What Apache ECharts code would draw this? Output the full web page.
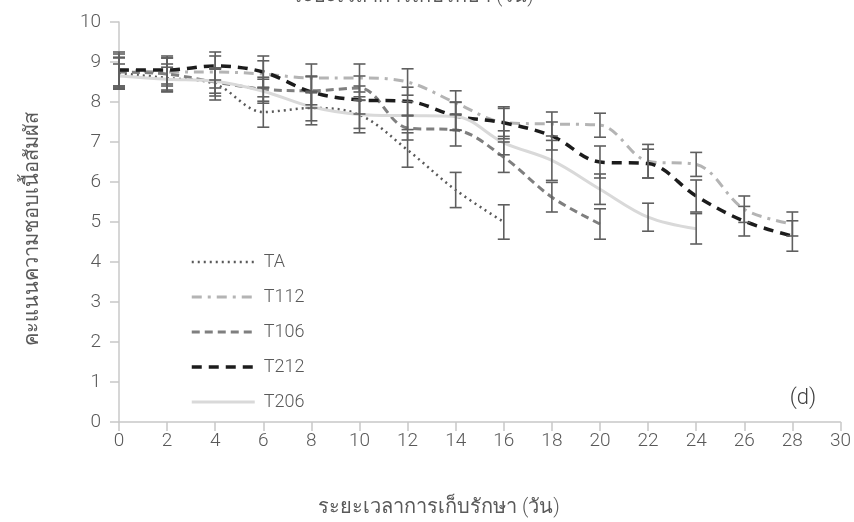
<!DOCTYPE html>
<html>
<head>
<meta charset="utf-8">
<script src="https://cdn.jsdelivr.net/npm/echarts@6/dist/echarts.min.js"></script>
<style>
  html, body { margin: 0; padding: 0; background: #fff; }
  #chart { width: 854px; height: 522px; }
</style>
</head>
<body>
<div id="chart"></div>
<script>
// storage days (x) and mean texture scores with error (sd)
const days = [0, 2, 4, 6, 8, 10, 12, 14, 16, 18, 20, 22, 24, 26, 28];
const xTicks = [0, 2, 4, 6, 8, 10, 12, 14, 16, 18, 20, 22, 24, 26, 28, 30];

const taMean = [8.72, 8.6, 8.45, 7.75, 7.85, 7.68, 6.8, 5.8, 5.0];
const taErr = [0.4, 0.35, 0.4, 0.38, 0.42, 0.45, 0.43, 0.44, 0.43];

const t112Mean = [8.8, 8.75, 8.75, 8.7, 8.6, 8.6, 8.5, 7.98, 7.49, 7.45, 7.42, 6.52, 6.44, 5.32, 4.95];
const t112Err = [0.4, 0.35, 0.4, 0.33, 0.35, 0.35, 0.33, 0.3, 0.35, 0.3, 0.3, 0.42, 0.3, 0.33, 0.3];

const t106Mean = [8.75, 8.7, 8.5, 8.32, 8.28, 8.35, 7.35, 7.3, 6.62, 5.62, 4.95];
const t106Err = [0.35, 0.4, 0.35, 0.3, 0.35, 0.3, 0.3, 0.4, 0.38, 0.37, 0.38];

const t212Mean = [8.8, 8.8, 8.9, 8.75, 8.25, 8.05, 8.02, 7.65, 7.48, 7.15, 6.5, 6.46, 5.65, 5.02, 4.65];
const t212Err = [0.45, 0.35, 0.35, 0.4, 0.4, 0.35, 0.35, 0.35, 0.4, 0.35, 0.4, 0.36, 0.4, 0.37, 0.38];

const t206Mean = [8.65, 8.57, 8.52, 8.27, 7.88, 7.69, 7.66, 7.64, 6.98, 6.54, 5.82, 5.12, 4.83];
const t206Err = [0.3, 0.3, 0.3, 0.3, 0.35, 0.35, 0.35, 0.35, 0.3, 0.5, 0.38, 0.35, 0.38];

const xName = 'ระยะเวลาการเก็บรักษา (วัน)';
const yName = 'คะแนนความชอบเนื้อสัมผัส';

const FONT = "Roboto, 'Liberation Sans', sans-serif";
const TXT = '#595959';

// line look per series: colour, width, dash
const styles = {
  TA: ['#595959', 2.5, [2, 4]],
  T112: ['#b4b4b4', 3, [10, 6, 3, 6]],
  T106: ['#7f7f7f', 3, [8, 5]],
  T212: ['#1c1c1c', 3.5, [10, 7]],
  T206: ['#d9d9d9', 3, 'solid']
};

function pairs(means) {
  return means.map((v, i) => [days[i], v]);
}
function errRows(means, errs) {
  return means.map((v, i) => [days[i], v, errs[i]]);
}

function lineSeries(name, means) {
  const s = styles[name];
  return {
    name: name,
    type: 'line',
    data: pairs(means),
    smooth: 0.35,
    symbol: 'none',
    lineStyle: { color: s[0], width: s[1], type: s[2], cap: 'butt' },
    itemStyle: { color: s[0] },
    z: 2
  };
}

function errSeries(means, errs) {
  return {
    type: 'custom',
    data: errRows(means, errs),
    z: 5,
    silent: true,
    renderItem: function (params, api) {
      const x = api.value(0), y = api.value(1), e = api.value(2);
      const top = api.coord([x, y + e]);
      const bot = api.coord([x, y - e]);
      const w = 6;
      const st = { stroke: '#5f5f5f', lineWidth: 1.6 };
      return {
        type: 'group',
        children: [
          { type: 'line', shape: { x1: top[0], y1: top[1], x2: bot[0], y2: bot[1] }, style: st },
          { type: 'line', shape: { x1: top[0] - w, y1: top[1], x2: top[0] + w, y2: top[1] }, style: st },
          { type: 'line', shape: { x1: bot[0] - w, y1: bot[1], x2: bot[0] + w, y2: bot[1] }, style: st }
        ]
      };
    }
  };
}

const legendNames = ['TA', 'T112', 'T106', 'T212', 'T206'];

const chart = echarts.init(document.getElementById('chart'), null, { renderer: 'canvas' });

chart.setOption({
  animation: false,
  backgroundColor: '#fff',
  textStyle: { fontFamily: FONT },
  grid: { left: 119, right: 12, top: 22, bottom: 100, containLabel: false },
  legend: {
    orient: 'vertical',
    left: 185,
    top: 248,
    itemWidth: 63,
    itemHeight: 14,
    itemGap: 17,
    itemStyle: { opacity: 0 },
    data: legendNames.map(n => ({
      name: n,
      lineStyle: { color: styles[n][0], width: styles[n][1], type: styles[n][2] }
    })),
    textStyle: { fontFamily: FONT, fontWeight: 300, fontSize: 18, color: TXT, lineHeight: 16, padding: [0, 0, 0, 4] }
  },
  xAxis: {
    type: 'value',
    min: 0,
    max: 30,
    interval: 2,
    axisLine: { show: true, lineStyle: { color: '#c8c8c8', width: 1.5 } },
    axisTick: { show: true, length: 9, lineStyle: { color: '#c8c8c8', width: 1.5 } },
    axisLabel: { fontFamily: FONT, fontWeight: 300, fontSize: 19, color: TXT, margin: 10,
      formatter: v => xTicks.indexOf(v) >= 0 ? String(v) : '' },
    splitLine: { show: false }
  },
  yAxis: {
    type: 'value',
    min: 0,
    max: 10,
    interval: 1,
    axisLine: { show: true, lineStyle: { color: '#c8c8c8', width: 1.5 } },
    axisTick: { show: true, length: 9, lineStyle: { color: '#c8c8c8', width: 1.5 } },
    axisLabel: { fontFamily: FONT, fontWeight: 300, fontSize: 19, color: TXT, margin: 18 },
    splitLine: { show: false }
  },
  graphic: [
    {
      type: 'text', x: 413, y: -3,
      style: { text: xName, font: '300 20px ' + FONT, fill: TXT, align: 'center', verticalAlign: 'middle' }
    },
    {
      type: 'text', x: 439, y: 508,
      style: { text: xName, font: '300 20px ' + FONT, fill: TXT, align: 'center', verticalAlign: 'middle' }
    },
    {
      type: 'text', x: 33, y: 229, rotation: Math.PI / 2,
      style: { text: yName, font: '300 20px ' + FONT, fill: TXT, align: 'center', verticalAlign: 'middle' }
    },
    {
      type: 'text', x: 803, y: 398,
      style: { text: '(d)', font: '300 22px ' + FONT, fill: '#404040', align: 'center', verticalAlign: 'middle' }
    }
  ],
  series: [
    lineSeries('TA', taMean),
    lineSeries('T112', t112Mean),
    lineSeries('T106', t106Mean),
    lineSeries('T212', t212Mean),
    lineSeries('T206', t206Mean),
    errSeries(taMean, taErr),
    errSeries(t112Mean, t112Err),
    errSeries(t106Mean, t106Err),
    errSeries(t212Mean, t212Err),
    errSeries(t206Mean, t206Err)
  ]
});
</script>
</body>
</html>
